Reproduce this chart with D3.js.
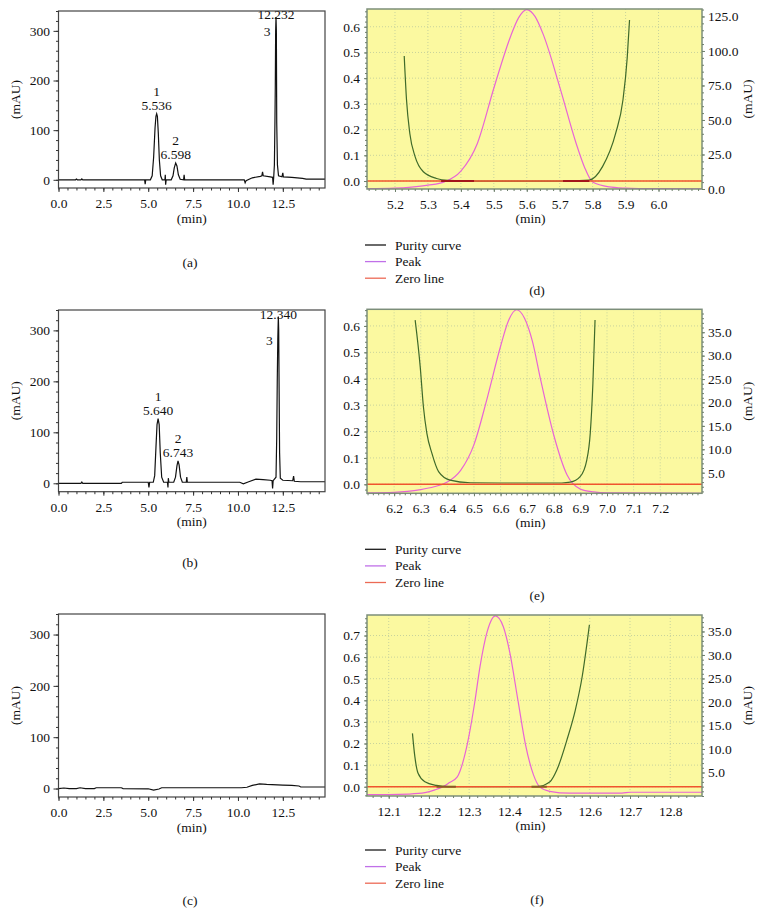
<!DOCTYPE html>
<html lang="en">
<head>
<meta charset="utf-8">
<title>HPLC chromatograms and peak purity</title>
<script src="https://cdnjs.cloudflare.com/ajax/libs/d3/7.8.5/d3.min.js"></script>
<style>
  body { margin: 0; background: #fff; }
  svg text { font-family: "Liberation Serif", "DejaVu Serif", serif; font-size: 13.5px; fill: #111; }
</style>
</head>
<body>
<svg id="chart" width="762" height="914"></svg>
<script>
// ---------- data ----------
const timeTicks = [0, 2.5, 5, 7.5, 10, 12.5];
const mauTicks = [0, 100, 200, 300];

// chromatograms [min, mAU]
const chromA = [[0,0],[0.95,0],[1.0,1.5],[1.05,0],[1.25,0],[1.3,2],[1.35,0],
  [4.8,0],[4.83,-9],[4.86,0],
  [5.12,0],[5.22,8],[5.3,45],[5.38,105],[5.43,128],[5.47,133],[5.51,128],[5.56,95],[5.62,40],[5.69,8],[5.78,0],
  [5.93,0],[5.95,10],[5.97,-10],[6.0,0],
  [6.28,0],[6.38,8],[6.45,24],[6.53,34],[6.6,28],[6.68,10],[6.78,1],[6.97,0],[7.0,10],[7.03,0],
  [10.35,0],[10.4,-6],[10.45,-2],[10.8,4],[11.25,7],[11.33,8],[11.37,16],[11.41,8],[11.8,6],[11.93,5],[11.96,-10],[11.99,4],
  [12.03,30],[12.06,115],[12.08,187],[12.1,300],[12.12,328],[12.14,300],[12.16,116],[12.2,30],[12.26,8],
  [12.45,6],[12.5,14],[12.53,6],[13.0,5],[13.6,3],[13.8,1.5],[14.85,1.5]];

const chromB = [[0,0],[1.25,0],[1.3,2.5],[1.35,0],[3.5,0],[3.55,2],[5.0,2],[5.04,-8],[5.08,2],
  [5.28,2],[5.36,15],[5.43,70],[5.49,115],[5.55,127],[5.61,115],[5.67,60],[5.75,12],[5.86,2],
  [6.07,2],[6.1,-8],[6.12,10],[6.15,2],
  [6.42,2],[6.52,12],[6.6,34],[6.66,44],[6.72,36],[6.8,12],[6.9,2],[7.12,2],[7.15,12],[7.18,2],
  [10.1,2],[10.3,-1],[10.6,3],[11.0,8],[11.4,7],[11.8,6],[11.9,5],[11.93,-10],[11.96,5],
  [12.12,12],[12.16,90],[12.19,200],[12.22,283],[12.25,327],[12.27,300],[12.29,200],[12.32,60],[12.36,10],[12.5,6],
  [13.05,5],[13.1,14],[13.14,4],[13.5,3],[14.85,3]];

const chromC = [[0,0],[0.3,1],[0.6,0],[1.0,0],[1.2,1.5],[1.5,0],[2.0,0],[2.1,1.5],[3.5,1.5],[3.6,0],
  [5.0,-0.5],[5.3,-3],[5.6,-1],[5.75,1.5],[10.2,1.5],[10.5,2.5],[10.8,6],[11.2,9],[11.6,8],[12.5,6.5],
  [13.0,6],[13.4,5],[13.5,3],[14.85,3]];

const peaksA = [
  {num: "1", rt: "5.536", t: 5.47, h: 133},
  {num: "2", rt: "6.598", t: 6.53, h: 34},
  {num: "3", rt: "12.232", t: 12.12, h: 328}
];
const peaksB = [
  {num: "1", rt: "5.640", t: 5.55, h: 127},
  {num: "2", rt: "6.743", t: 6.66, h: 44},
  {num: "3", rt: "12.340", t: 12.25, h: 327}
];

// purity panels: purity curve [min, left axis], peak [min, mAU]
const purityD = [[5.228,0.486],[5.235,0.315],[5.245,0.185],[5.261,0.095],[5.286,0.036],[5.326,0.01],[5.36,0.003],
  [5.45,0.0],[5.7,0.0],[5.79,0.004],[5.83,0.056],[5.87,0.186],[5.892,0.315],[5.905,0.48],[5.912,0.626]];
const peakD = [[5.115,0.2],[5.2,0.6],[5.25,1.4],[5.3,2.8],[5.35,5.2],[5.4,13],[5.45,33],[5.5,73],[5.55,110],
  [5.575,124],[5.6,130],[5.625,125],[5.65,112],[5.7,74],[5.75,33],[5.775,16],[5.8,5],[5.85,1.5],[5.9,0.6],
  [5.95,0.3],[6.0,0.2],[6.13,0.1]];
const darkD = [[5.34,5.44],[5.71,5.79]];

const purityE = [[6.279,0.622],[6.298,0.445],[6.31,0.294],[6.323,0.193],[6.342,0.117],[6.367,0.048],[6.41,0.016],
  [6.486,0.006],[6.6,0.005],[6.83,0.005],[6.862,0.008],[6.899,0.029],[6.924,0.092],[6.937,0.193],[6.947,0.383],[6.955,0.622]];
const peakE = [[6.1,0.7],[6.2,0.8],[6.25,1.0],[6.3,1.4],[6.35,2.0],[6.4,3.0],[6.45,5.5],[6.5,11],[6.55,21],[6.6,32],
  [6.63,37.5],[6.66,39.8],[6.69,38],[6.72,33],[6.75,25],[6.8,13],[6.85,4.5],[6.9,1.5],[6.95,0.9],[7.0,0.7],[7.36,0.6]];
const darkE = [];

const purityF = [[12.159,0.247],[12.165,0.139],[12.173,0.062],[12.19,0.023],[12.219,0.006],[12.25,0.0],[12.468,0.0],
  [12.501,0.023],[12.518,0.077],[12.543,0.216],[12.564,0.355],[12.581,0.509],[12.593,0.664],[12.599,0.749]];
const peakF = [[12.046,0.3],[12.1,0.3],[12.15,0.4],[12.19,0.7],[12.215,1.3],[12.235,2.0],[12.25,2.8],[12.27,4],
  [12.29,9],[12.3,13],[12.314,20],[12.327,27.5],[12.345,35],[12.365,38.3],[12.385,36],[12.4,31],[12.422,20],
  [12.44,11],[12.46,4.5],[12.475,2.0],[12.5,1.0],[12.55,0.6],[12.68,0.6],[12.7,0.8],[12.879,0.8]];
const darkF = [[12.219,12.267],[12.455,12.493]];

const legendItems = ["Purity curve", "Peak", "Zero line"];
const legendColors = ["#1a1a1a", "#c070e8", "#ec6a55"];

// ---------- drawing ----------
const svg = d3.select("#chart");

function drawChrom(cfg) {
  const x = d3.scaleLinear().domain([0, 14.85]).range([58.5, 325]);
  const y = d3.scaleLinear().domain([-16.5, 340]).range([cfg.bottom, cfg.top]);
  const g = svg.append("g");

  const clipId = "clip" + cfg.letter;
  g.append("clipPath").attr("id", clipId).append("rect")
    .attr("x", 58.5).attr("y", cfg.top - 2).attr("width", 325 - 58.5).attr("height", cfg.bottom - cfg.top + 2);

  g.append("path")
    .datum(cfg.data)
    .attr("clip-path", `url(#${clipId})`)
    .attr("fill", "none")
    .attr("stroke", "#111")
    .attr("stroke-width", 1.2)
    .attr("d", d3.line().x(d => x(d[0])).y(d => y(d[1])));

  g.append("rect")
    .attr("x", 58.5).attr("y", cfg.top)
    .attr("width", 325 - 58.5).attr("height", cfg.bottom - cfg.top)
    .attr("fill", "none").attr("stroke", "#444").attr("stroke-width", 1.2);

  // minor ticks
  g.append("g").attr("transform", `translate(0,${cfg.bottom})`)
    .call(d3.axisBottom(x).tickValues(d3.range(0, 14.85, 0.5)).tickSize(2.5).tickFormat(""))
    .call(a => a.select(".domain").remove());
  g.append("g").attr("transform", "translate(58.5,0)")
    .call(d3.axisLeft(y).tickValues(d3.range(-0, 341, 20)).tickSize(2.5).tickFormat(""))
    .call(a => a.select(".domain").remove());

  const xa = g.append("g").attr("transform", `translate(0,${cfg.bottom})`)
    .call(d3.axisBottom(x).tickValues(timeTicks).tickFormat(d3.format(".1f")).tickSize(4).tickPadding(6.5));
  xa.select(".domain").remove();
  const ya = g.append("g").attr("transform", "translate(58.5,0)")
    .call(d3.axisLeft(y).tickValues(mauTicks).tickSize(5).tickPadding(3.5));
  ya.select(".domain").remove();
  g.selectAll(".tick text").attr("fill", "#111").style("font-size", "13.5px")
    .style("font-family", '"Liberation Serif", serif');
  g.selectAll(".tick line").attr("stroke", "#333");

  g.append("text").attr("x", 191.75).attr("y", cfg.bottom + 34.5).attr("text-anchor", "middle").text("(min)");
  g.append("text").attr("transform", `translate(19.5,${(cfg.top + cfg.bottom) / 2}) rotate(-90)`)
    .attr("text-anchor", "middle").text("(mAU)");
  g.append("text").attr("x", 190).attr("y", cfg.letterY).attr("text-anchor", "middle").text(`(${cfg.letter})`);

  (cfg.peaks || []).forEach((p, i) => {
    const px = x(p.t), py = y(p.h);
    if (i < 2) {
      g.append("text").attr("x", px).attr("y", py - 3.5).attr("text-anchor", "middle").text(p.rt);
      g.append("text").attr("x", px).attr("y", py - 18).attr("text-anchor", "middle").text(p.num);
    } else {
      g.append("text").attr("x", px).attr("y", py + 2.5).attr("text-anchor", "middle").text(p.rt);
      g.append("text").attr("x", px - 9).attr("y", py + cfg.num3Dy).attr("text-anchor", "middle").text(p.num);
    }
  });
}

function drawPurity(cfg) {
  const L = 367, R = 702;
  const x = d3.scaleLinear().domain(cfg.xDom).range([L, R]);
  const yl = d3.scaleLinear().domain(cfg.leftDom).range([cfg.bottom, cfg.top]);
  const yr = d3.scaleLinear().domain(cfg.rightDom).range([cfg.bottom, cfg.top]);
  const g = svg.append("g");

  g.append("rect").attr("x", L).attr("y", cfg.top).attr("width", R - L).attr("height", cfg.bottom - cfg.top)
    .attr("fill", "#fbf9a0");

  // dotted grid
  g.append("g").selectAll("line.v").data(cfg.xTicks).join("line")
    .attr("x1", d => x(d)).attr("x2", d => x(d)).attr("y1", cfg.top).attr("y2", cfg.bottom)
    .attr("stroke", "#c8d39c").attr("stroke-dasharray", "1,2");
  g.append("g").selectAll("line.h").data(cfg.leftTicks).join("line")
    .attr("x1", L).attr("x2", R).attr("y1", d => yl(d)).attr("y2", d => yl(d))
    .attr("stroke", "#c8d39c").attr("stroke-dasharray", "1,2");

  const clipId = "clip" + cfg.letter;
  g.append("clipPath").attr("id", clipId).append("rect")
    .attr("x", L).attr("y", cfg.top).attr("width", R - L).attr("height", cfg.bottom - cfg.top);
  const plot = g.append("g").attr("clip-path", `url(#${clipId})`);

  plot.append("path").datum(cfg.peak)
    .attr("fill", "none").attr("stroke", "#e864d6").attr("stroke-width", 1.2)
    .attr("d", d3.line().curve(d3.curveMonotoneX).x(d => x(d[0])).y(d => yr(d[1])));

  plot.append("path").datum(cfg.purity)
    .attr("fill", "none").attr("stroke", "#3f6a2a").attr("stroke-width", 1.2)
    .attr("d", d3.line().curve(d3.curveMonotoneX).x(d => x(d[0])).y(d => yl(d[1])));

  plot.append("line").attr("x1", L).attr("x2", R).attr("y1", yl(0)).attr("y2", yl(0))
    .attr("stroke", "#f0552e").attr("stroke-width", 1.6);

  plot.selectAll("line.dark").data(cfg.dark).join("line")
    .attr("x1", d => x(d[0])).attr("x2", d => x(d[1])).attr("y1", yl(0)).attr("y2", yl(0))
    .attr("stroke", cfg.darkColor).attr("stroke-width", 2);

  g.append("rect").attr("x", L).attr("y", cfg.top).attr("width", R - L).attr("height", cfg.bottom - cfg.top)
    .attr("fill", "none").attr("stroke", "#7c8e7a").attr("stroke-width", 1.5);

  // minor ticks
  const lo = cfg.leftDom, ro = cfg.rightDom, xo = cfg.xDom;
  g.append("g").attr("transform", `translate(0,${cfg.bottom})`)
    .call(d3.axisBottom(x).tickValues(d3.range(Math.ceil(xo[0] * 50) / 50, xo[1], 0.02)).tickSize(2).tickFormat(""))
    .call(a => a.select(".domain").remove());
  g.append("g").attr("transform", `translate(${L},0)`)
    .call(d3.axisLeft(yl).tickValues(d3.range(Math.ceil(lo[0] * 50) / 50, lo[1], 0.02)).tickSize(2).tickFormat(""))
    .call(a => a.select(".domain").remove());
  g.append("g").attr("transform", `translate(${R},0)`)
    .call(d3.axisRight(yr).tickValues(d3.range(Math.ceil(ro[0] / cfg.rightMinor) * cfg.rightMinor, ro[1], cfg.rightMinor)).tickSize(2).tickFormat(""))
    .call(a => a.select(".domain").remove());

  g.append("g").attr("transform", `translate(0,${cfg.bottom})`)
    .call(d3.axisBottom(x).tickValues(cfg.xTicks).tickFormat(d3.format(".1f")).tickSize(3).tickPadding(7))
    .call(a => a.select(".domain").remove());
  g.append("g").attr("transform", `translate(${L},0)`)
    .call(d3.axisLeft(yl).tickValues(cfg.leftTicks).tickFormat(d3.format(".1f")).tickSize(3).tickPadding(4))
    .call(a => a.select(".domain").remove());
  g.append("g").attr("transform", `translate(${R},0)`)
    .call(d3.axisRight(yr).tickValues(cfg.rightTicks).tickFormat(d3.format(".1f")).tickSize(3).tickPadding(3))
    .call(a => a.select(".domain").remove());
  g.selectAll(".tick text").attr("fill", "#111").style("font-size", "13.5px")
    .style("font-family", '"Liberation Serif", serif');
  g.selectAll(".tick line").attr("stroke", "#6f806c");

  g.append("text").attr("x", (L + R) / 2 - 4).attr("y", cfg.bottom + 34).attr("text-anchor", "middle").text("(min)");
  g.append("text").attr("transform", `translate(752,${(cfg.top + cfg.bottom) / 2}) rotate(-90)`)
    .attr("text-anchor", "middle").text("(mAU)");

  const leg = g.append("g");
  legendItems.forEach((name, i) => {
    const cy = cfg.legendY + i * 16.6;
    leg.append("line").attr("x1", 365).attr("x2", 386).attr("y1", cy).attr("y2", cy)
      .attr("stroke", legendColors[i]).attr("stroke-width", 1.3);
    leg.append("text").attr("x", 395).attr("y", cy + 4.5).text(name);
  });
  g.append("text").attr("x", 537).attr("y", cfg.letterY).attr("text-anchor", "middle").text(`(${cfg.letter})`);
}

drawChrom({top: 11, bottom: 188, data: chromA, peaks: peaksA, letter: "a", letterY: 267, num3Dy: 19});
drawChrom({top: 310, bottom: 491.7, data: chromB, peaks: peaksB, letter: "b", letterY: 567, num3Dy: 28});
drawChrom({top: 614, bottom: 797, data: chromC, peaks: [], letter: "c", letterY: 905, num3Dy: 0});

drawPurity({top: 9, bottom: 189, xDom: [5.115, 6.132], leftDom: [-0.031, 0.669], rightDom: [0, 130.4],
  xTicks: [5.2, 5.3, 5.4, 5.5, 5.6, 5.7, 5.8, 5.9, 6.0], leftTicks: [0, 0.1, 0.2, 0.3, 0.4, 0.5, 0.6],
  rightTicks: [0, 25, 50, 75, 100, 125], rightMinor: 5,
  purity: purityD, peak: peakD, dark: darkD, darkColor: "#a3161a", letter: "d", legendY: 245, letterY: 295});
drawPurity({top: 309.3, bottom: 493.3, xDom: [6.098, 7.357], leftDom: [-0.034, 0.663], rightDom: [0.6, 39.9],
  xTicks: [6.2, 6.3, 6.4, 6.5, 6.6, 6.7, 6.8, 6.9, 7.0, 7.1, 7.2], leftTicks: [0, 0.1, 0.2, 0.3, 0.4, 0.5, 0.6],
  rightTicks: [5, 10, 15, 20, 25, 30, 35], rightMinor: 1,
  purity: purityE, peak: peakE, dark: darkE, darkColor: "#a3161a", letter: "e", legendY: 549.3, letterY: 600});
drawPurity({top: 615, bottom: 796, xDom: [12.046, 12.879], leftDom: [-0.043, 0.795], rightDom: [0, 38.5],
  xTicks: [12.1, 12.2, 12.3, 12.4, 12.5, 12.6, 12.7, 12.8], leftTicks: [0, 0.1, 0.2, 0.3, 0.4, 0.5, 0.6, 0.7],
  rightTicks: [5, 10, 15, 20, 25, 30, 35], rightMinor: 1,
  purity: purityF, peak: peakF, dark: darkF, darkColor: "#8a5a22", letter: "f", legendY: 850, letterY: 904});
</script>
</body>
</html>
